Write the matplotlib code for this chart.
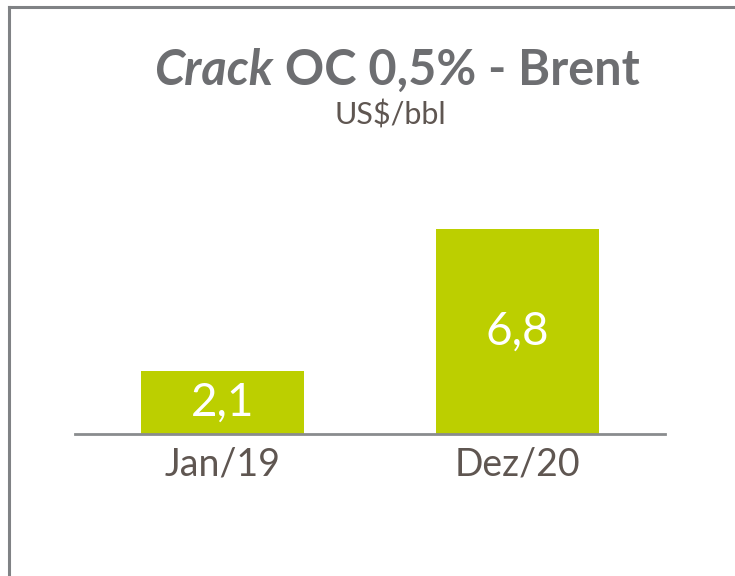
import matplotlib.pyplot as plt
from matplotlib.lines import Line2D

# crack spread, US$/bbl
categories = ["Jan/19", "Dez/20"]
values = [2.1, 6.8]
value_labels = ["2,1", "6,8"]

green = "#BCCF00"
title_gray = "#6D6E71"
label_brown = "#5F5651"
frame_gray = "#808285"

plt.rcParams['font.family'] = ['Lato', 'DejaVu Sans']

W, H = 735, 576
fig = plt.figure(figsize=(W / 100, H / 100), dpi=100)

# axes placed in pixel terms: baseline at y=434, spans x 75..665
ax = fig.add_axes([75 / W, (H - 434) / H, 590 / W, 234 / H])
xs = range(len(categories))
ax.bar(xs, values, width=0.553, color=green, zorder=2)
ax.set_xlim(-0.5, 1.5)
ax.set_ylim(0, 7.75)
for s in ["top", "right", "left"]:
    ax.spines[s].set_visible(False)
ax.spines["bottom"].set_color("#8A8C8E")
ax.spines["bottom"].set_linewidth(2)
ax.set_yticks([])
ax.set_xticks(list(xs))
ax.set_xticklabels(categories, fontsize=27, color=label_brown)
ax.tick_params(axis="x", length=0, pad=9)

for x, v, lab in zip(xs, values, value_labels):
    ax.text(x, v / 2, lab, ha="center", va="center", fontsize=33,
            color="white", zorder=3)

# title: italic "Crack" followed by the rest in bold
fig.canvas.draw()
r = fig.canvas.get_renderer()
t1 = fig.text(0, 0, "Crack", fontsize=35, fontweight="bold", style="italic",
              color=title_gray)
t2 = fig.text(0, 0, " OC 0,5% - Brent", fontsize=35, fontweight="bold",
              color=title_gray)
w1 = t1.get_window_extent(r).width
w2 = t2.get_window_extent(r).width
cx = 397
left = cx - (w1 + w2) / 2
ty = (H - 85) / H
t1.set_position((left / W, ty))
t2.set_position(((left + w1) / W, ty))
fig.text(390 / W, (H - 125) / H, "US$/bbl", ha="center", va="baseline",
         fontsize=22, color=label_brown)

# frame lines (top and left)
fig.add_artist(Line2D([9 / W, 1], [1 - 7 / H, 1 - 7 / H], color=frame_gray,
                      lw=2.2, transform=fig.transFigure))
fig.add_artist(Line2D([9 / W, 9 / W], [0, 1 - 7 / H], color=frame_gray,
                      lw=2.2, transform=fig.transFigure))

fig.savefig("out.png", dpi=100)
